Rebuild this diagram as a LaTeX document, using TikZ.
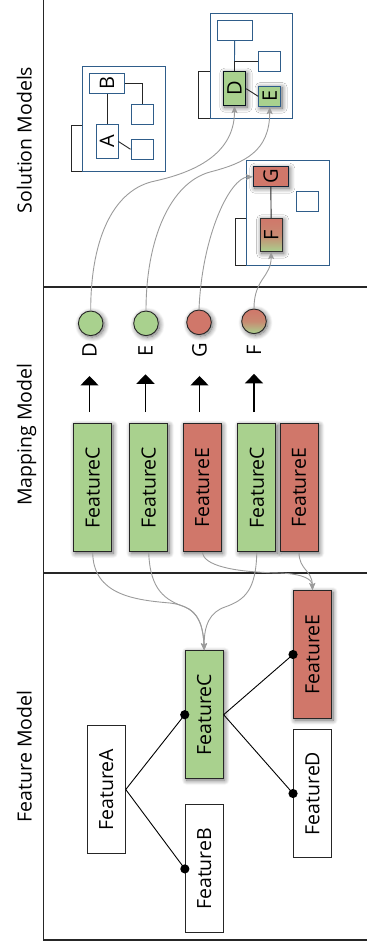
\documentclass[tikz,border=0pt]{standalone}
\usepackage{fontspec}
\setmainfont{Open Sans}
\usetikzlibrary{arrows.meta,shadows.blur}
\definecolor{fgreen}{HTML}{A9D18E}
\definecolor{fred}{HTML}{D0776A}
\definecolor{mblue}{HTML}{2F5D8A}
\definecolor{cgray}{HTML}{9B9B9B}
\definecolor{frameline}{HTML}{262626}
\newcommand{\vtext}[1]{\rotatebox{90}{#1}}
\tikzset{
  bigfont/.style={font=\fontsize{19.5pt}{22pt}\selectfont},
  letfont/.style={font=\fontsize{20pt}{22pt}\selectfont},
  softshadow/.style={blur shadow={shadow xshift=1.5pt, shadow yshift=-1.5pt, shadow blur radius=5pt, shadow opacity=60, shadow blur steps=10}},
  featbox/.style={draw=black!85, line width=0.9pt, fill=white, minimum width=38pt, minimum height=128pt, inner sep=0pt, bigfont},
  greenbox/.style={fill=fgreen, softshadow},
  redbox/.style={fill=fred, softshadow},
  mixbox/.style={top color=fred, bottom color=fgreen, middle color=fred!80!fgreen, softshadow},
  circ/.style={circle, draw=black!85, line width=0.9pt, minimum size=24.6pt, inner sep=0pt},
  solbox/.style={draw=mblue, line width=0.9pt, fill=white, inner sep=0pt, letfont},
  frameblue/.style={draw=mblue, line width=0.9pt},
  tabbox/.style={draw=black!85, line width=0.9pt, fill=white},
  fline/.style={draw=black, line width=0.9pt},
  marrow/.style={draw=black, line width=1.4pt, -{Triangle[width=18pt,length=9.5pt]}},
  garrow/.style={draw=cgray, line width=0.9pt, -{Stealth[length=7pt,width=6pt,inset=1.5pt]}},
  sline/.style={draw=black!85, line width=0.9pt},
}
\begin{document}
\begin{tikzpicture}[x=1pt,y=-1pt]
\useasboundingbox (0,0) rectangle (367,948);

% section frame
\draw[frameline, line width=1.3pt] (43.7,0) -- (43.7,940) -- (367,940);
\draw[frameline, line width=1.3pt] (43.7,287) -- (367,287);
\draw[frameline, line width=1.3pt] (43.7,573) -- (367,573);

% section labels
\node[bigfont, rotate=90, anchor=base, inner sep=0pt] (tSol) at (31.5,140) {Solution Models};
\node[bigfont, rotate=90, anchor=base, inner sep=0pt] (tMap) at (31.5,434.5) {Mapping Model};
\node[bigfont, rotate=90, anchor=base, inner sep=0pt] (tFea) at (31.5,756.5) {Feature Model};

% ---------- Solution models ----------
% model 1
\draw[tabbox] (71,125) rectangle (82.7,171.7);
\draw[frameblue, fill=white] (82.7,66) rectangle (165,171.7);
\node[solbox, minimum width=35.4pt, minimum height=20.3pt] (solB) at (107,83.15) {\vtext{B}};
\node[solbox, minimum width=22pt, minimum height=33.6pt] (solA) at (107,141.5) {\vtext{A}};
\node[solbox, minimum width=22.3pt, minimum height=20.4pt] (s1) at (142.15,114.5) {};
\node[solbox, minimum width=22.3pt, minimum height=20pt] (s2) at (142.15,149.3) {};
\draw[sline] (solB.south) -- (solA.north);
\draw[sline] (solB.east) -| (s1.north);
\draw[sline] (solA.east) -- (s2.west);

% model 2
\draw[tabbox] (198.3,71) rectangle (210,118.3);
\draw[frameblue, fill=white] (210,13.3) rectangle (292.3,118.3);
\node[solbox, minimum width=35.3pt, minimum height=20.3pt] (t2) at (234.65,30.15) {};
\node[solbox, minimum width=22.4pt, minimum height=20.7pt] (s3) at (269.5,61.35) {};
\node[solbox, greenbox, draw=black!80!mblue, minimum width=22.4pt, minimum height=34pt] (solD) at (234.5,88.7) {\vtext{D}};
\node[solbox, greenbox, minimum width=22pt, minimum height=20.7pt] (solE) at (269.7,96.35) {\vtext{E}};
\coordinate (j2) at (solD.north |- s3.west);
\draw[draw=mblue, line width=0.9pt] (t2.south) -- (j2);
\draw[sline] (j2) -- (solD.north);
\draw[sline] (j2) -- (s3.west);
\draw[sline] (solD.east) -- (solE.west);

% model 3
\draw[tabbox] (235,218.3) rectangle (246.7,265);
\draw[frameblue, fill=white] (246.7,160) rectangle (329,265);
\node[solbox, redbox, draw=black!60!mblue, minimum width=35pt, minimum height=20pt] (solG) at (270.8,176.7) {\vtext{G}};
\node[solbox, minimum width=21.6pt, minimum height=20pt] (s4) at (307.5,201.7) {};
\node[solbox, mixbox, draw=black!80, minimum width=22.3pt, minimum height=33.4pt] (solF) at (271.15,235) {\vtext{F}};
\draw[sline] (solG.south) -- (solF.north);

% ---------- Mapping model ----------
\node[circ, greenbox] (cD) at (90.7,323.3) {};
\node[circ, greenbox] (cE) at (146,323.3) {};
\node[circ, redbox] (cG) at (199,322.3) {};
\node[circ, mixbox] (cF) at (254,321.3) {};

\node[letfont, inner sep=0pt] (lD) at (89.5,350.5) {\vtext{D}};
\node[letfont, inner sep=0pt] (lE) at (145.5,350.5) {\vtext{E}};
\node[letfont, inner sep=0pt] (lG) at (199.5,350.5) {\vtext{G}};
\node[letfont, inner sep=0pt] (lF) at (254,350.5) {\vtext{F}};

\node[featbox, greenbox] (m1) at (92.7,487.8) {\vtext{FeatureC}};
\node[featbox, greenbox] (m2) at (148.7,487.8) {\vtext{FeatureC}};
\node[featbox, redbox] (m3) at (202.2,487.8) {\vtext{FeatureE}};
\node[featbox, greenbox] (m4) at (256.8,487.8) {\vtext{FeatureC}};
\node[featbox, redbox] (m5) at (299,487.8) {\vtext{FeatureE}};

\draw[marrow, shorten <=11.3pt, shorten >=18pt] (m1.north -| lD.south) -- (lD.south);
\draw[marrow, shorten <=11.3pt, shorten >=18pt] (m2.north -| lE.south) -- (lE.south);
\draw[marrow, shorten <=11.3pt, shorten >=18pt] (m3.north -| lG.south) -- (lG.south);
\draw[marrow, shorten <=11.3pt, shorten >=18pt] (m4.north -| lF.south) -- (lF.south);

% ---------- Feature model ----------
\node[featbox] (fA) at (106.3,789.5) {\vtext{FeatureA}};
\node[featbox] (fB) at (204.3,868.9) {\vtext{FeatureB}};
\node[featbox, greenbox] (fC) at (204.2,714.7) {\vtext{FeatureC}};
\node[featbox] (fD) at (312.5,793.5) {\vtext{FeatureD}};
\node[featbox, redbox] (fE) at (312.5,654.5) {\vtext{FeatureE}};

\draw[fline] (fA.east) -- (fC.west);
\draw[fline] (fA.east) -- (fB.west);
\draw[fline] (fC.east) -- (fE.west);
\draw[fline] (fC.east) -- (fD.west);
\fill[black] (fC.west) circle (4.6pt);
\fill[black] (fB.west) circle (4.6pt);
\fill[black] (fE.west) circle (4.6pt);
\fill[black] (fD.west) circle (4.6pt);

% ---------- gray trace connectors ----------
\coordinate (midD) at (155,181);
\coordinate (midE) at (210,172);
\draw[garrow] (cD.north) .. controls +(0,-75) and +(-40,8) .. (midD) .. controls +(45,-10) and +(0,45) .. (solD.south);
\draw[garrow] (cE.north) .. controls +(0,-71) and +(-40,11) .. (midE) .. controls +(35,-9) and +(0,44) .. (solE.south);
\draw[garrow] (cG.north) .. controls (202,235) and (230,178) .. (solG.west);
\draw[garrow] (cF.north) .. controls +(0,-30) and +(0,25) .. (solF.south);

\coordinate (mid1) at (170,603);
\coordinate (mid2) at (185,607);
\coordinate (mid4) at (225,607);
\coordinate (mid3) at (280,573);
\draw[garrow] (m1.south) .. controls (93,595) and (135,600) .. (mid1) .. controls (195,606) and (203,620) .. (fC.north);
\draw[garrow] (m2.south) .. controls (150,590) and (165,600) .. (mid2) .. controls (198,612) and (203,625) .. (fC.north);
\draw[garrow] (m4.south) .. controls (256,590) and (245,600) .. (mid4) .. controls (210,612) and (204,625) .. (fC.north);
\draw[garrow] (m3.south) .. controls (204,565) and (230,572) .. (mid3) .. controls (305,574) and (312,580) .. (fE.north);
\draw[garrow] (m5.south) .. controls (299,570) and (312,570) .. (fE.north);
\end{tikzpicture}
\end{document}
